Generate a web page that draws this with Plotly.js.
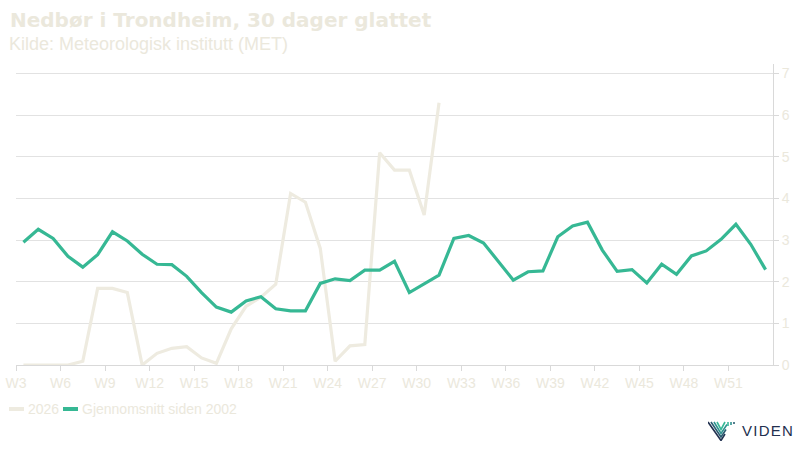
<!DOCTYPE html>
<html>
<head>
<meta charset="utf-8">
<script src="https://cdn.plot.ly/plotly-3.0.1.min.js"></script>
<style>
  html, body { margin: 0; padding: 0; background: #fff; }
  #chart { width: 800px; height: 450px; }
</style>
</head>
<body>
<div id="chart"></div>
<script>
// week numbers (each point sits mid-week)
var weeks = [3, 4, 5, 6, 7, 8, 9, 10, 11, 12, 13, 14, 15, 16, 17, 18, 19, 20, 21, 22,
             23, 24, 25, 26, 27, 28, 29, 30, 31, 32, 33, 34, 35, 36, 37, 38, 39, 40, 41, 42,
             43, 44, 45, 46, 47, 48, 49, 50, 51, 52, 53];

// mm per day, 30 day smoothed
var avg2002 = [2.95, 3.26, 3.04, 2.61, 2.35, 2.65, 3.20, 2.98, 2.66, 2.42,
               2.41, 2.13, 1.74, 1.39, 1.27, 1.54, 1.64, 1.35, 1.30, 1.30,
               1.96, 2.07, 2.03, 2.28, 2.28, 2.49, 1.74, 1.95, 2.16, 3.04,
               3.11, 2.93, 2.49, 2.04, 2.24, 2.26, 3.08, 3.34, 3.43, 2.76,
               2.25, 2.29, 1.97, 2.42, 2.18, 2.62, 2.74, 3.02, 3.38, 2.90, 2.29];

var y2026 = [0.00, 0.00, 0.00, 0.00, 0.09, 1.84, 1.84, 1.74, 0.00, 0.28,
             0.40, 0.44, 0.17, 0.04, 0.87, 1.41, 1.63, 1.94, 4.12, 3.91,
             2.80, 0.09, 0.46, 0.49, 5.10, 4.68, 4.68, 3.60, 6.30];

var tickWeeks = [3, 6, 9, 12, 15, 18, 21, 24, 27, 30, 33, 36, 39, 42, 45, 48, 51];
var tickLabels = ['W3', 'W6', 'W9', 'W12', 'W15', 'W18', 'W21', 'W24', 'W27',
                  'W30', 'W33', 'W36', 'W39', 'W42', 'W45', 'W48', 'W51'];

var beige = '#eeebe0';
var green = '#36b894';
var textCol = '#ebe8dc';
var gridCol = '#e2e2e2';

var midWeek = weeks.map(function (w) { return w + 0.5; });

var trace1 = {
    x: midWeek.slice(0, y2026.length),
    y: y2026,
    name: '2026',
    type: 'scatter',
    mode: 'lines',
    line: {color: beige, width: 3.2},
    hoverinfo: 'skip'
};

var trace2 = {
    x: midWeek,
    y: avg2002,
    name: 'Gjennomsnitt siden 2002',
    type: 'scatter',
    mode: 'lines',
    line: {color: green, width: 3.2},
    hoverinfo: 'skip'
};

// plot area in pixels, used to place the decorations
var L = 16, T = 64, W = 757, H = 301;
function px(x) { return (x - L) / W; }
function py(y) { return (T + H - y) / H; }

var logoSvg =
    '<svg xmlns="http://www.w3.org/2000/svg" viewBox="0 0 30 20">' +
    '<g fill="none" stroke-width="1.6" stroke-linejoin="miter">' +
    '<polyline points="0,1 13,19.5 17,13" stroke="#223150"/>' +
    '<polyline points="3,1 13,16 18,8.5" stroke="#2a5d72"/>' +
    '<polyline points="6,1 13,12.5 19,3.5" stroke="#30928f"/>' +
    '<polyline points="9,1 13,8.5 17,1" stroke="#38b898"/>' +
    '<line x1="20" y1="1" x2="20" y2="5" stroke="#38b898"/>' +
    '<line x1="23" y1="1" x2="23" y2="4" stroke="#30928f"/>' +
    '<line x1="26" y1="1" x2="26" y2="3" stroke="#2a5d72"/>' +
    '</g></svg>';

var layout = {
    width: 800,
    height: 450,
    margin: {l: L, r: 800 - L - W, t: T, b: 450 - T - H},
    paper_bgcolor: '#ffffff',
    plot_bgcolor: '#ffffff',
    font: {family: 'Liberation Sans, Arial, sans-serif', size: 14, color: textCol},
    showlegend: false,
    xaxis: {
        type: 'linear',
        range: [3, 54],
        tickvals: tickWeeks,
        ticktext: tickLabels,
        showgrid: false,
        zeroline: false,
        showline: true,
        linecolor: '#d9d9d9',
        linewidth: 1,
        ticks: 'outside',
        ticklen: 5,
        tickcolor: '#d9d9d9',
        tickfont: {size: 14, color: textCol},
        fixedrange: true
    },
    yaxis: {
        side: 'right',
        range: [0, 7.23],
        dtick: 1,
        tick0: 0,
        showgrid: true,
        gridcolor: gridCol,
        zeroline: false,
        showline: true,
        linecolor: '#d9d9d9',
        ticks: 'outside',
        ticklen: 5,
        tickcolor: '#d9d9d9',
        tickfont: {size: 14, color: textCol},
        fixedrange: true
    },
    shapes: [
        {type: 'line', xref: 'paper', yref: 'paper', x0: px(9), x1: px(24), y0: py(409), y1: py(409),
         line: {color: beige, width: 4}},
        {type: 'line', xref: 'paper', yref: 'paper', x0: px(63), x1: px(78), y0: py(409), y1: py(409),
         line: {color: green, width: 4}}
    ],
    annotations: [
        {text: '<b>Nedbør i Trondheim, 30 dager glattet</b>', xref: 'paper', yref: 'paper',
         x: px(8), y: py(20), xanchor: 'left', yanchor: 'middle', showarrow: false,
         font: {family: 'DejaVu Sans, Verdana, sans-serif', size: 20, color: textCol}},
        {text: 'Kilde: Meteorologisk institutt (MET)', xref: 'paper', yref: 'paper',
         x: px(7), y: py(44), xanchor: 'left', yanchor: 'middle', showarrow: false,
         font: {family: 'Liberation Sans, Arial, sans-serif', size: 18, color: textCol}},
        {text: '2026', xref: 'paper', yref: 'paper', x: px(26), y: py(409),
         xanchor: 'left', yanchor: 'middle', showarrow: false,
         font: {size: 14, color: textCol}},
        {text: 'Gjennomsnitt siden 2002', xref: 'paper', yref: 'paper', x: px(80), y: py(409),
         xanchor: 'left', yanchor: 'middle', showarrow: false,
         font: {size: 14, color: textCol}},
        {text: 'V\u200AI\u200AD\u200AE\u200AN', xref: 'paper', yref: 'paper', x: px(740), y: py(431),
         xanchor: 'left', yanchor: 'middle', showarrow: false,
         font: {family: 'Liberation Sans, Arial, sans-serif', size: 15, color: '#23304f'}}
    ],
    images: [
        {source: 'data:image/svg+xml;charset=utf-8,' + encodeURIComponent(logoSvg),
         xref: 'paper', yref: 'paper', x: px(708), y: py(421),
         sizex: 30 / W, sizey: 20 / H, xanchor: 'left', yanchor: 'top', sizing: 'stretch'}
    ]
};

Plotly.newPlot('chart', [trace1, trace2], layout, {displayModeBar: false, staticPlot: true});
</script>
</body>
</html>
